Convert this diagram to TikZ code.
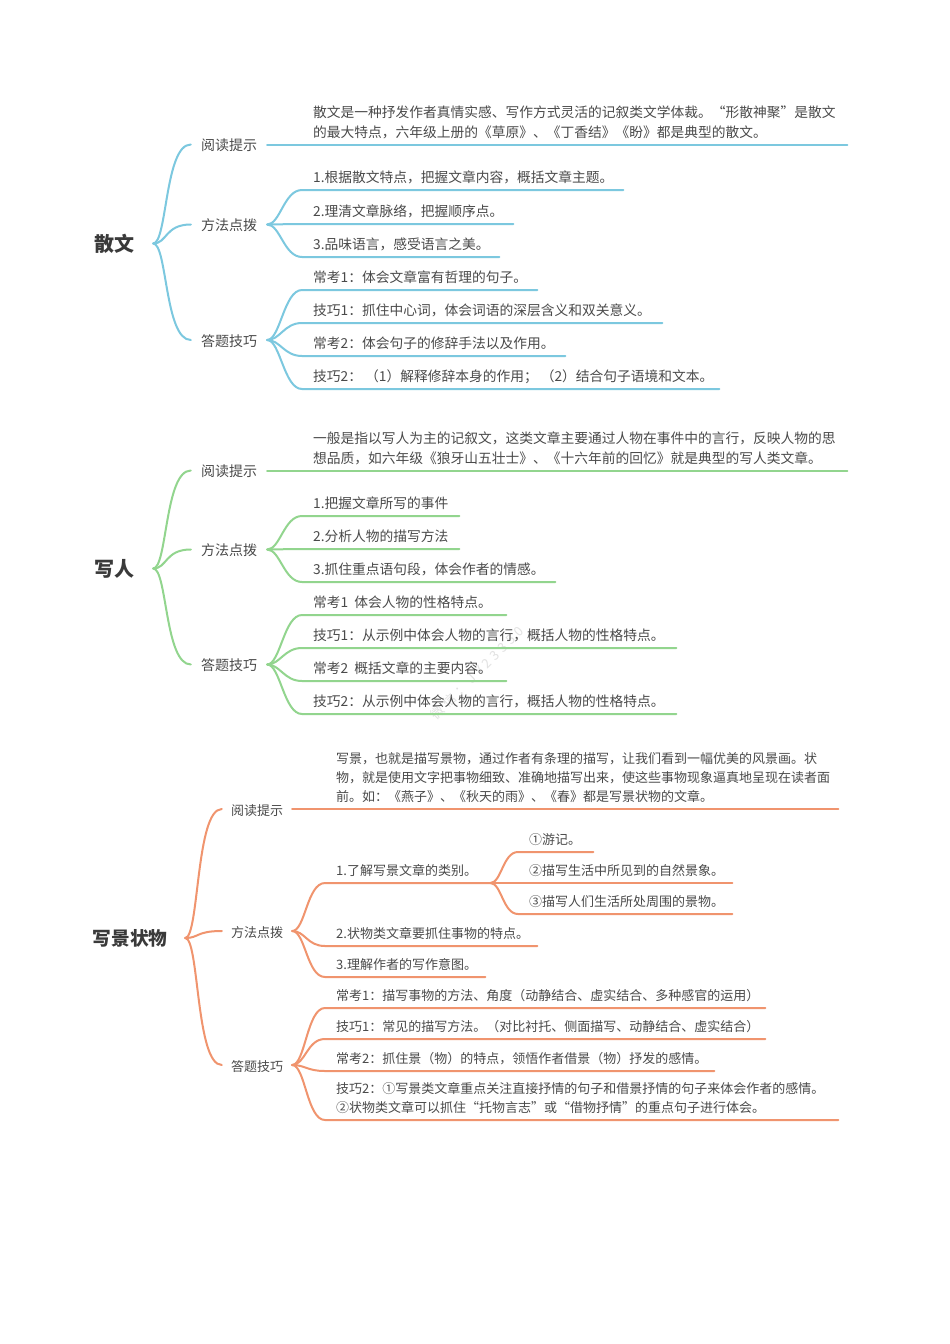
\documentclass[tikz,border=0pt]{standalone}
\usepackage{fontspec}
\setmainfont{Noto Sans CJK SC}
\newfontfamily\markfont[LetterSpace=30]{Noto Sans CJK SC}
\usetikzlibrary{calc}
\definecolor{cblue}{HTML}{7CC8DF}
\definecolor{cgreen}{HTML}{92D58E}
\definecolor{corange}{HTML}{F0946E}
\definecolor{ctext}{HTML}{4A4A4A}
\definecolor{ctitle}{HTML}{3A3A3A}
\definecolor{cmark}{HTML}{E2E2E2}
\tikzset{
  titlebox/.style={inner sep=0pt,font=\fontsize{20}{24}\selectfont\bfseries,text=ctitle},
  titlesmall/.style={titlebox,font=\fontsize{18.7}{24}\selectfont\bfseries},
  labelbox/.style={inner sep=0pt,font=\fontsize{14}{16}\selectfont,text=ctext},
  labelsmall/.style={labelbox,font=\fontsize{13}{16}\selectfont},
  leafbox/.style={inner sep=0pt,anchor=south west,text depth=0pt,font=\fontsize{13.75}{16}\selectfont,text=ctext},
  leafsmall/.style={leafbox,font=\fontsize{13}{16}\selectfont},
  link/.style={line width=2pt,line cap=round,line join=round},
  markbox/.style={inner sep=0pt,rotate=45,font=\markfont\fontsize{13}{16}\selectfont,text=cmark},
}
\newcommand{\lab}[1]{\raisebox{-6pt}[0pt][0pt]{#1}}
% name, x start, y line, x end, text offset, content (hboxes)
\newcommand{\leafnode}[6]{%
  \pgfmathsetlengthmacro{\leafw}{#4-#2}%
  \node[leafbox] (#1) at (#2,#3) {\makebox[\leafw][l]{\hspace{#5pt}\raisebox{7.3pt}{\vbox{\baselineskip=19.8pt\lineskiplimit=-10pt #6}}}};}
\newcommand{\leafnodes}[6]{%
  \pgfmathsetlengthmacro{\leafw}{#4-#2}%
  \node[leafsmall] (#1) at (#2,#3) {\makebox[\leafw][l]{\hspace{#5pt}\raisebox{7pt}{\vbox{\baselineskip=19pt\lineskiplimit=-10pt #6}}}};}
\newcommand{\branch}[3]{\draw[link,#1] (#2.east) .. controls ++(13pt,0pt) and ($(#3.south west)+(-18pt,0pt)$) .. (#3.south west) -- (#3.south east);}
\begin{document}
\begin{tikzpicture}[x=1pt,y=-1pt]
\useasboundingbox (0,0) rectangle (950,1344);
\fill[white] (0,0) rectangle (950,1344);
\node[markbox] (wm) at (477,673) {微信：JY23350};
% ---------- section 1
\node[titlebox,minimum width=78pt] (t1) at (114,243.5) {散文};
\node[labelbox,minimum width=76pt] (a1) at (229,144.5) {\lab{阅读提示}};
\node[labelbox,minimum width=76pt] (a2) at (229,224.5) {\lab{方法点拨}};
\node[labelbox,minimum width=76pt] (a3) at (229,340) {\lab{答题技巧}};
\foreach \n in {a1,a2,a3}{
  \draw[link,cblue] (t1.east) .. controls ++(14pt,0pt) and ($(\n.west)+(-26pt,0pt)$) .. (\n.west);}
\leafnode{a1x}{302}{144.5}{847}{11}{\hbox{散文是一种抒发作者真情实感、写作方式灵活的记叙类文学体裁。“形散神聚”是散文}\hbox{的最大特点，六年级上册的《草原》、《丁香结》《盼》都是典型的散文。}}
\draw[link,cblue] (a1.east) -- (a1x.south east);
\leafnode{a21}{302}{190}{623}{11}{\hbox{1.根据散文特点，把握文章内容，概括文章主题。}}
\leafnode{a22}{302}{224}{513}{11}{\hbox{2.理清文章脉络，把握顺序点。}}
\leafnode{a23}{302}{257}{499}{11}{\hbox{3.品味语言，感受语言之美。}}
\branch{cblue}{a2}{a21}\branch{cblue}{a2}{a22}\branch{cblue}{a2}{a23}
\leafnode{a31}{302}{290}{537}{11}{\hbox{常考1：体会文章富有哲理的句子。}}
\leafnode{a32}{302}{323}{662}{11}{\hbox{技巧1：抓住中心词，体会词语的深层含义和双关意义。}}
\leafnode{a33}{302}{356}{565}{11}{\hbox{常考2：体会句子的修辞手法以及作用。}}
\leafnode{a34}{302}{389}{719}{11}{\hbox{技巧2：\ （1）解释修辞本身的作用；\ （2）结合句子语境和文本。}}
\branch{cblue}{a3}{a31}\branch{cblue}{a3}{a32}\branch{cblue}{a3}{a33}\branch{cblue}{a3}{a34}
% ---------- section 2
\node[titlebox,minimum width=78pt] (t2) at (114,568.5) {写人};
\node[labelbox,minimum width=76pt] (b1) at (229,470.5) {\lab{阅读提示}};
\node[labelbox,minimum width=76pt] (b2) at (229,549.5) {\lab{方法点拨}};
\node[labelbox,minimum width=76pt] (b3) at (229,664.5) {\lab{答题技巧}};
\foreach \n in {b1,b2,b3}{
  \draw[link,cgreen] (t2.east) .. controls ++(14pt,0pt) and ($(\n.west)+(-26pt,0pt)$) .. (\n.west);}
\leafnode{b1x}{302}{470.5}{847}{11}{\hbox{一般是指以写人为主的记叙文，这类文章主要通过人物在事件中的言行，反映人物的思}\hbox{想品质，如六年级《狼牙山五壮士》、《十六年前的回忆》就是典型的写人类文章。}}
\draw[link,cgreen] (b1.east) -- (b1x.south east);
\leafnode{b21}{302}{516}{459}{11}{\hbox{1.把握文章所写的事件}}
\leafnode{b22}{302}{549}{459}{11}{\hbox{2.分析人物的描写方法}}
\leafnode{b23}{302}{582}{555}{11}{\hbox{3.抓住重点语句段，体会作者的情感。}}
\branch{cgreen}{b2}{b21}\branch{cgreen}{b2}{b22}\branch{cgreen}{b2}{b23}
\leafnode{b31}{302}{615}{506}{11}{\hbox{常考1\ \ 体会人物的性格特点。}}
\leafnode{b32}{302}{648}{676}{11}{\hbox{技巧1：从示例中体会人物的言行，概括人物的性格特点。}}
\leafnode{b33}{302}{681}{506}{11}{\hbox{常考2\ \ 概括文章的主要内容。}}
\leafnode{b34}{302}{714}{676}{11}{\hbox{技巧2：从示例中体会人物的言行，概括人物的性格特点。}}
\branch{cgreen}{b3}{b31}\branch{cgreen}{b3}{b32}\branch{cgreen}{b3}{b33}\branch{cgreen}{b3}{b34}
% ---------- section 3
\node[titlesmall,minimum width=110pt] (t3) at (130,938) {写景状物};
\node[labelsmall,minimum width=70pt] (c1) at (257,809) {\lab{阅读提示}};
\node[labelsmall,minimum width=70pt] (c2) at (257,931) {\lab{方法点拨}};
\node[labelsmall,minimum width=70pt] (c3) at (257,1065) {\lab{答题技巧}};
\foreach \n in {c1,c2,c3}{
  \draw[link,corange] (t3.east) .. controls ++(14pt,0pt) and ($(\n.west)+(-26pt,0pt)$) .. (\n.west);}
\leafnodes{c1x}{325}{809}{838}{11}{\hbox{写景，也就是描写景物，通过作者有条理的描写，让我们看到一幅优美的风景画。状}\hbox{物，就是使用文字把事物细致、准确地描写出来，使这些事物现象逼真地呈现在读者面}\hbox{前。如：《燕子》、《秋天的雨》、《春》都是写景状物的文章。}}
\draw[link,corange] (c1.east) -- (c1x.south east);
\leafnodes{c21}{325}{883}{490}{11}{\hbox{1.了解写景文章的类别。}}
\leafnodes{c22}{325}{946}{537}{11}{\hbox{2.状物类文章要抓住事物的特点。}}
\leafnodes{c23}{325}{977}{485}{11}{\hbox{3.理解作者的写作意图。}}
\branch{corange}{c2}{c21}\branch{corange}{c2}{c22}\branch{corange}{c2}{c23}
\leafnodes{d1}{518}{852}{593}{11}{\hbox{①游记。}}
\leafnodes{d2}{518}{883}{732}{11}{\hbox{②描写生活中所见到的自然景象。}}
\leafnodes{d3}{518}{914}{732}{11}{\hbox{③描写人们生活所处周围的景物。}}
\foreach \n in {d1,d2,d3}{
  \draw[link,corange] (c21.south east) .. controls ++(11pt,0pt) and ($(\n.south west)+(-15pt,0pt)$) .. (\n.south west) -- (\n.south east);}
\leafnodes{c31}{325}{1008}{765}{11}{\hbox{常考1：描写事物的方法、角度（动静结合、虚实结合、多种感官的运用）}}
\leafnodes{c32}{325}{1039}{765}{11}{\hbox{技巧1：常见的描写方法。（对比衬托、侧面描写、动静结合、虚实结合）}}
\leafnodes{c33}{325}{1071}{714}{11}{\hbox{常考2：抓住景（物）的特点，领悟作者借景（物）抒发的感情。}}
\leafnodes{c34}{325}{1120}{838}{11}{\hbox{技巧2：①写景类文章重点关注直接抒情的句子和借景抒情的句子来体会作者的感情。}\hbox{②状物类文章可以抓住“托物言志”或“借物抒情”的重点句子进行体会。}}
\branch{corange}{c3}{c31}\branch{corange}{c3}{c32}\branch{corange}{c3}{c33}\branch{corange}{c3}{c34}
\end{tikzpicture}
\end{document}
